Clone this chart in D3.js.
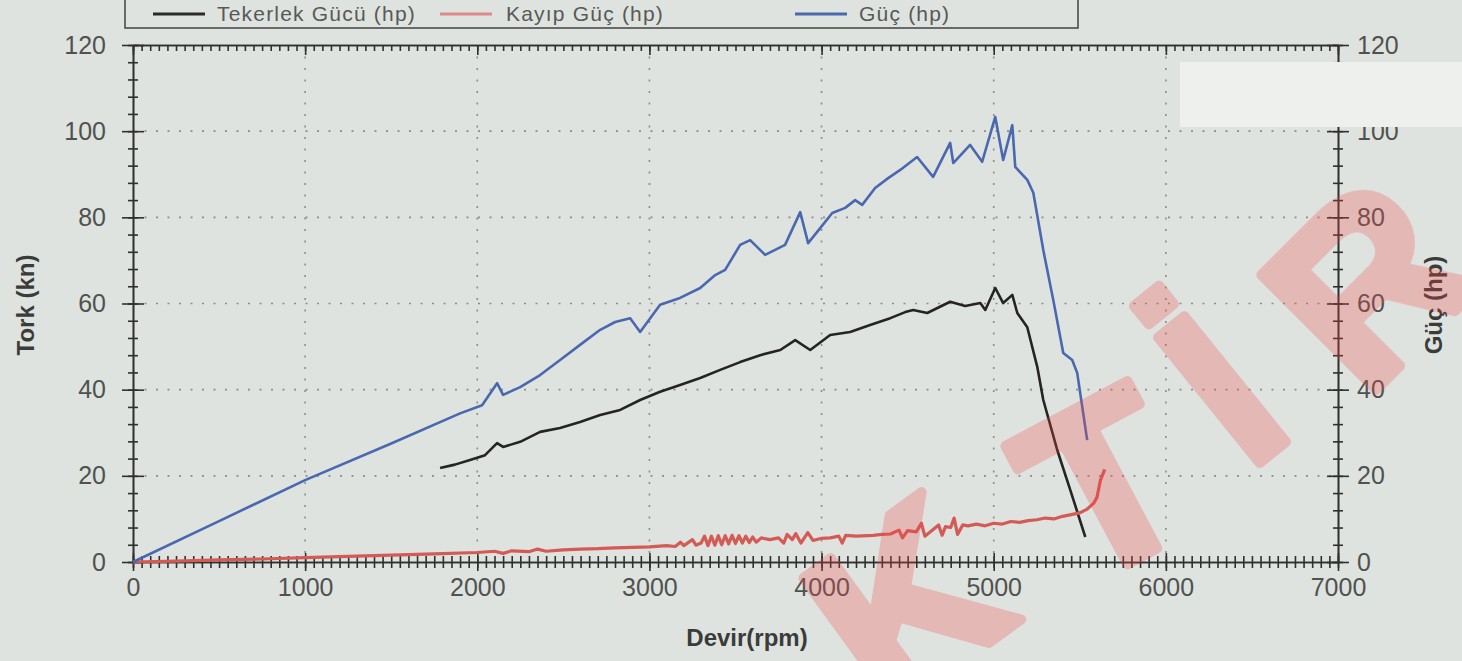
<!DOCTYPE html>
<html lang="tr">
  <head>
    <meta charset="UTF-8" />
    <title>Devir - Güç grafiği</title>
    <script src="https://d3js.org/d3.v7.min.js"></script>
    <style>
      body {
        margin: 0;
        background: #dfe3df;
        font-family: "Liberation Sans", Arial, sans-serif;
      }
      svg {
        display: block;
      }
      .tick text {
        font-size: 25px;
        fill: #4f524f;
      }
      .axis path,
      .axis line {
        stroke: #2f312f;
        stroke-width: 1.6;
      }
      .grid line {
        stroke: #8b8f8b;
        stroke-width: 1.6;
        stroke-dasharray: 2 9.5;
      }
      .title {
        font-size: 24px;
        font-weight: bold;
        fill: #3a3c3a;
      }
      .legend text {
        font-size: 21px;
        fill: #575957;
        letter-spacing: 1.2px;
      }
    </style>
  </head>
  <body>
    <div id="chart"></div>

    <script>
      // ---- data ----
      const xTicks = [0, 1000, 2000, 3000, 4000, 5000, 6000, 7000];
      const yTicks = [0, 20, 40, 60, 80, 100, 120];
      const seriesNames = ["Tekerlek Gücü (hp)", "Kayıp Güç (hp)", "Güç (hp)"];
      const seriesColors = ["#242424", "#d45a56", "#4a68b0"];
      const legendColors = ["#2a2a2a", "#dd8a88", "#4a68b0"];

      // Güç (hp)
      const gucRpm = [0, 500, 1000, 1500, 1900, 2028, 2115, 2150, 2249, 2365, 2481, 2597, 2714,
        2801, 2888, 2946, 3062, 3178, 3295, 3382, 3440, 3527, 3585, 3672, 3788, 3876, 3922,
        3992, 4062, 4137, 4195, 4236, 4311, 4387, 4457, 4555, 4648, 4747, 4765, 4863, 4933,
        5009, 5055, 5108, 5125, 5195, 5230, 5288, 5346, 5404, 5456, 5485, 5543];
      const gucHp = [0, 9.5, 19, 27.5, 34.5, 36.4, 41.5, 38.8, 40.6, 43.4, 46.9, 50.4, 53.9,
        55.7, 56.6, 53.4, 59.7, 61.3, 63.6, 66.6, 67.8, 73.6, 74.7, 71.3, 73.6, 81.2, 74.0,
        77.5, 81.0, 82.2, 84.0, 82.9, 86.8, 89.1, 91.0, 94.0, 89.4, 97.3, 92.6, 96.8, 92.9,
        103.3, 93.3, 101.4, 91.7, 88.7, 85.7, 72.4, 60.8, 48.5, 46.9, 43.9, 28.3];

      // Tekerlek Gücü (hp)
      const tekerRpm = [1784, 1870, 1958, 2045, 2115, 2150, 2249, 2365, 2481, 2597, 2714, 2830,
        2946, 3062, 3178, 3295, 3411, 3527, 3643, 3760, 3847, 3934, 4050, 4166, 4282, 4399,
        4486, 4532, 4614, 4747, 4834, 4922, 4951, 5009, 5055, 5108, 5137, 5195, 5253, 5288,
        5369, 5445, 5532];
      const tekerHp = [21.8, 22.6, 23.7, 24.8, 27.6, 26.7, 27.9, 30.2, 31.1, 32.5, 34.1, 35.3,
        37.6, 39.5, 41.1, 42.7, 44.6, 46.4, 48.0, 49.2, 51.5, 49.2, 52.7, 53.4, 55.0, 56.6,
        58.0, 58.5, 57.8, 60.4, 59.4, 60.1, 58.5, 63.6, 60.1, 62.0, 57.8, 54.5, 45.3, 37.6,
        26.0, 16.7, 5.8];

      // Kayıp Güç (hp)
      const kayipRpm = [0, 250, 500, 750, 1000, 1250, 1500, 1750, 2000, 2100, 2150, 2200, 2300,
        2350, 2400, 2500, 2600, 2700, 2800, 2900, 3000, 3100, 3150, 3180, 3200, 3250, 3270,
        3300, 3320, 3340, 3360, 3380, 3400, 3420, 3440, 3460, 3480, 3500, 3520, 3540, 3560,
        3580, 3600, 3620, 3650, 3700, 3750, 3780, 3800, 3830, 3850, 3880, 3920, 3950, 4000,
        4050, 4100, 4120, 4140, 4200, 4300, 4350, 4400, 4450, 4470, 4500, 4550, 4580, 4600,
        4650, 4680, 4700, 4720, 4750, 4770, 4790, 4820, 4850, 4900, 4950, 5000, 5050, 5100,
        5150, 5200, 5250, 5300, 5350, 5400, 5450, 5500, 5540, 5580, 5600, 5620, 5645];
      const kayipHp = [0, 0.2, 0.5, 0.7, 1.0, 1.3, 1.6, 1.9, 2.2, 2.5, 2.0, 2.6, 2.4,
        3.0, 2.5, 2.8, 3.0, 3.1, 3.3, 3.4, 3.5, 3.8, 3.6, 4.6, 3.8, 5.2, 3.9,
        4.4, 6.0, 3.8, 6.0, 3.9, 6.1, 4.0, 6.1, 4.2, 6.2, 4.3, 6.1, 4.4, 6.0,
        4.5, 5.8, 4.6, 5.6, 5.2, 5.6, 4.4, 6.4, 5.2, 6.6, 4.4, 6.8, 5.0, 5.5,
        5.6, 6.0, 4.4, 6.2, 6.0, 6.2, 6.4, 6.5, 7.4, 5.6, 7.3, 7.0, 9.0, 6.0,
        7.6, 8.6, 6.2, 8.2, 8.0, 10.2, 6.4, 8.6, 8.4, 8.8, 8.4, 9.0, 8.8, 9.4,
        9.2, 9.6, 9.8, 10.2, 10.0, 10.6, 11.0, 11.4, 12.2, 13.6, 15.0, 19.0, 21.5];

      const watermark = ["K", "T", "İ", "R"];

      // ---- layout ----
      const W = 1462, H = 661;
      const x = d3.scaleLinear().domain([0, 7000]).range([133, 1338]);
      const y = d3.scaleLinear().domain([0, 120]).range([562, 45]);
      const yR = d3.scaleLinear().domain([0, 120]).range([562, 45]);
      const fmt = d3.format("d");

      const svg = d3.select("#chart").append("svg").attr("width", W).attr("height", H);

      // grid
      const grid = svg.append("g").attr("class", "grid");
      grid.selectAll(".gy").data(yTicks.filter((d) => d > 0 && d < 120)).join("line")
        .attr("x1", x(0)).attr("x2", x(7000)).attr("y1", (d) => y(d)).attr("y2", (d) => y(d));
      grid.selectAll(".gx").data(xTicks.filter((d) => d > 0 && d < 7000)).join("line")
        .attr("x1", (d) => x(d)).attr("x2", (d) => x(d)).attr("y1", y(120)).attr("y2", y(0));

      // bottom axis: minor ticks every 50 rpm, crossing the line
      const minorX = d3.range(0, 7001, 50);
      const bMinor = svg.append("g").attr("class", "axis").attr("transform", `translate(0,${y(0)})`)
        .call(d3.axisBottom(x).tickValues(minorX).tickSize(6).tickSizeOuter(0).tickFormat(""));
      bMinor.selectAll(".tick line").attr("y1", -6);
      const bMajor = svg.append("g").attr("class", "axis").attr("transform", `translate(0,${y(0)})`)
        .call(d3.axisBottom(x).tickValues(xTicks).tickSize(9).tickSizeOuter(0).tickPadding(7).tickFormat(fmt));
      bMajor.selectAll(".tick line").attr("y1", -9);
      bMajor.selectAll(".tick text").attr("fill", "#4f524f");

      // top border with inward ticks
      svg.append("g").attr("class", "axis").attr("transform", `translate(0,${y(120)})`)
        .call(d3.axisBottom(x).tickValues(minorX).tickSize(6).tickSizeOuter(0).tickFormat(""));
      svg.append("g").attr("class", "axis").attr("transform", `translate(0,${y(120)})`)
        .call(d3.axisBottom(x).tickValues(xTicks).tickSize(10).tickSizeOuter(0).tickFormat(""));

      // left axis
      const minorY = d3.range(0, 121, 4);
      const lMinor = svg.append("g").attr("class", "axis").attr("transform", `translate(${x(0)},0)`)
        .call(d3.axisLeft(y).tickValues(minorY).tickSize(5).tickSizeOuter(0).tickFormat(""));
      lMinor.selectAll(".tick line").attr("x1", 5);
      const lMajor = svg.append("g").attr("class", "axis").attr("transform", `translate(${x(0)},0)`)
        .call(d3.axisLeft(y).tickValues(yTicks).tickSize(11).tickSizeOuter(0).tickPadding(16).tickFormat(fmt));
      lMajor.selectAll(".tick line").attr("x1", 11);
      lMajor.selectAll(".tick text").attr("fill", "#4f524f");

      // right axis (Güç)
      const rMinor = svg.append("g").attr("class", "axis").attr("transform", `translate(${x(7000)},0)`)
        .call(d3.axisRight(yR).tickValues(minorY).tickSize(5).tickSizeOuter(0).tickFormat(""));
      rMinor.selectAll(".tick line").attr("x1", -5);
      const rMajor = svg.append("g").attr("class", "axis").attr("transform", `translate(${x(7000)},0)`)
        .call(d3.axisRight(yR).tickValues(yTicks).tickSize(11).tickSizeOuter(0).tickPadding(8).tickFormat(fmt));
      rMajor.selectAll(".tick line").attr("x1", -11);
      rMajor.selectAll(".tick text").attr("fill", "#4f524f");

      svg.selectAll(".axis .domain").attr("stroke", "#2f312f");

      // light glare patch on the photo, over the right axis
      svg.append("rect").attr("x", 1180).attr("y", 62).attr("width", 282).attr("height", 65)
        .attr("fill", "#edf0ed");

      // titles
      svg.append("text").attr("class", "title").attr("text-anchor", "middle")
        .attr("transform", "translate(34,305) rotate(-90)").text("Tork (kn)");
      svg.append("text").attr("class", "title").attr("text-anchor", "middle")
        .attr("transform", "translate(1442,305) rotate(-90)").text("Güç (hp)");
      svg.append("text").attr("class", "title").attr("text-anchor", "middle")
        .attr("x", 747).attr("y", 646).text("Devir(rpm)");

      // lines
      const line = d3.line().x((d) => x(d[0])).y((d) => y(d[1]));
      const series = [
        d3.zip(tekerRpm, tekerHp),
        d3.zip(kayipRpm, kayipHp),
        d3.zip(gucRpm, gucHp),
      ];
      svg.append("g").selectAll("path").data(series).join("path")
        .attr("d", line)
        .attr("fill", "none")
        .attr("stroke", (d, i) => seriesColors[i])
        .attr("stroke-width", (d, i) => (i === 1 ? 3.2 : 2.6))
        .attr("stroke-linejoin", "round");

      // legend
      const legend = svg.append("g").attr("class", "legend");
      legend.append("rect").attr("x", 125).attr("y", -3).attr("width", 953).attr("height", 31)
        .attr("fill", "none").attr("stroke", "#4a4c4a").attr("stroke-width", 1.6);
      const legX = [153, 440, 795];
      const items = legend.selectAll(".item").data(seriesNames).join("g")
        .attr("transform", (d, i) => `translate(${legX[i]},14)`);
      items.append("line").attr("x1", 0).attr("x2", 52).attr("y1", 0).attr("y2", 0)
        .attr("stroke", (d, i) => legendColors[i]).attr("stroke-width", 3);
      items.append("text").attr("x", (d, i) => (i === 1 ? 66 : 64)).attr("y", 7).text((d) => d);

      // watermark
      const wmPos = [[905, 600, -36], [1103, 482, -28], [1220, 387, -39], [1366, 282, -45]];
      const wm = svg.append("g").attr("opacity", 0.27);
      wm.selectAll("text").data(watermark).join("text")
        .attr("transform", (d, i) => `translate(${wmPos[i][0]},${wmPos[i][1]}) rotate(${wmPos[i][2]})`)
        .attr("text-anchor", "middle")
        .attr("dy", "0.358em")
        .attr("font-size", 235)
        .attr("font-weight", "bold")
        .attr("fill", "#f24545")
        .attr("stroke", "#f24545")
        .attr("stroke-width", 10)
        .attr("stroke-linejoin", "round")
        .text((d) => d);
    </script>
  </body>
</html>
